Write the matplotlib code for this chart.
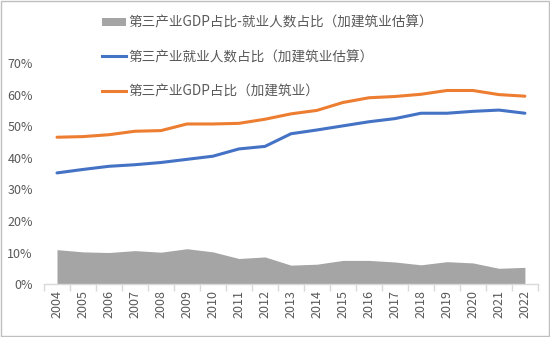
import numpy as np
import matplotlib
matplotlib.use("Agg")
import matplotlib.pyplot as plt
from matplotlib.patches import Patch
from matplotlib.lines import Line2D

plt.rcParams['font.family'] = ['Noto Sans CJK SC', 'DejaVu Sans']

years = [str(y) for y in range(2004, 2023)]
# 第三产业GDP占比（加建筑业）
gdp_share = [46.5, 46.7, 47.3, 48.4, 48.6, 50.7, 50.7, 50.9, 52.2, 53.9,
             55.0, 57.5, 59.0, 59.4, 60.1, 61.3, 61.3, 60.0, 59.5]
# 第三产业就业人数占比（加建筑业估算）
emp_share = [35.2, 36.3, 37.3, 37.8, 38.5, 39.5, 40.5, 42.8, 43.6, 47.6,
             48.8, 50.1, 51.4, 52.4, 54.1, 54.1, 54.7, 55.1, 54.1]
# 差值
gap = [10.9, 10.2, 10.0, 10.6, 10.1, 11.2, 10.2, 8.1, 8.6, 6.0,
       6.3, 7.5, 7.5, 7.0, 6.1, 7.1, 6.7, 5.0, 5.3]

labels = ['第三产业GDP占比-就业人数占比（加建筑业估算）',
          '第三产业就业人数占比（加建筑业估算）',
          '第三产业GDP占比（加建筑业）']
c_gray, c_blue, c_orange = '#A5A5A5', '#4472C4', '#ED7D31'
txt = '#595959'

fig = plt.figure(figsize=(5.5, 3.37), dpi=100)
ax = fig.add_axes([0.08, 0.157, 0.898, 0.656])

x = np.arange(len(years))
ax.fill_between(x, 0, np.array(gap) / 100, color=c_gray, linewidth=0)
ax.plot(x, np.array(emp_share) / 100, color=c_blue, lw=2.2, solid_capstyle='round')
ax.plot(x, np.array(gdp_share) / 100, color=c_orange, lw=2.2, solid_capstyle='round')

ax.set_xlim(-0.5, len(years) - 0.5)
ax.set_ylim(0, 0.7)
ax.set_yticks(np.arange(0, 0.71, 0.1))
ax.set_yticklabels([f'{int(round(v*100))}%' for v in np.arange(0, 0.71, 0.1)],
                   fontsize=9, color=txt)
ax.tick_params(axis='y', length=0, pad=8)

ax.set_xticks(x)
ax.set_xticklabels(years, rotation=90, fontsize=9, color=txt)
ax.set_xticks(np.arange(-0.5, len(years), 1), minor=True)
ax.tick_params(axis='x', which='major', length=0, pad=4)
ax.tick_params(axis='x', which='minor', length=5, color='#d9d9d9', width=1)

for s in ['left', 'right', 'top']:
    ax.spines[s].set_visible(False)
ax.spines['bottom'].set_color('#d9d9d9')
ax.spines['bottom'].set_linewidth(1)

handles = [Patch(facecolor=c_gray, edgecolor='none'),
           Line2D([], [], color=c_blue, lw=2.2),
           Line2D([], [], color=c_orange, lw=2.2)]
fig.legend(handles, labels, loc='upper left', bbox_to_anchor=(0.163, 0.99),
           frameon=False, fontsize=9.8, labelcolor=txt, labelspacing=1.5,
           handlelength=1.75, handletextpad=0.2, handleheight=0.6)

# chart border
fig.patches.append(plt.Rectangle((0.001, 0.002), 0.997, 0.995, transform=fig.transFigure,
                                 fill=False, edgecolor='#bfbfbf', lw=1))

fig.savefig('out.png', dpi=100)
